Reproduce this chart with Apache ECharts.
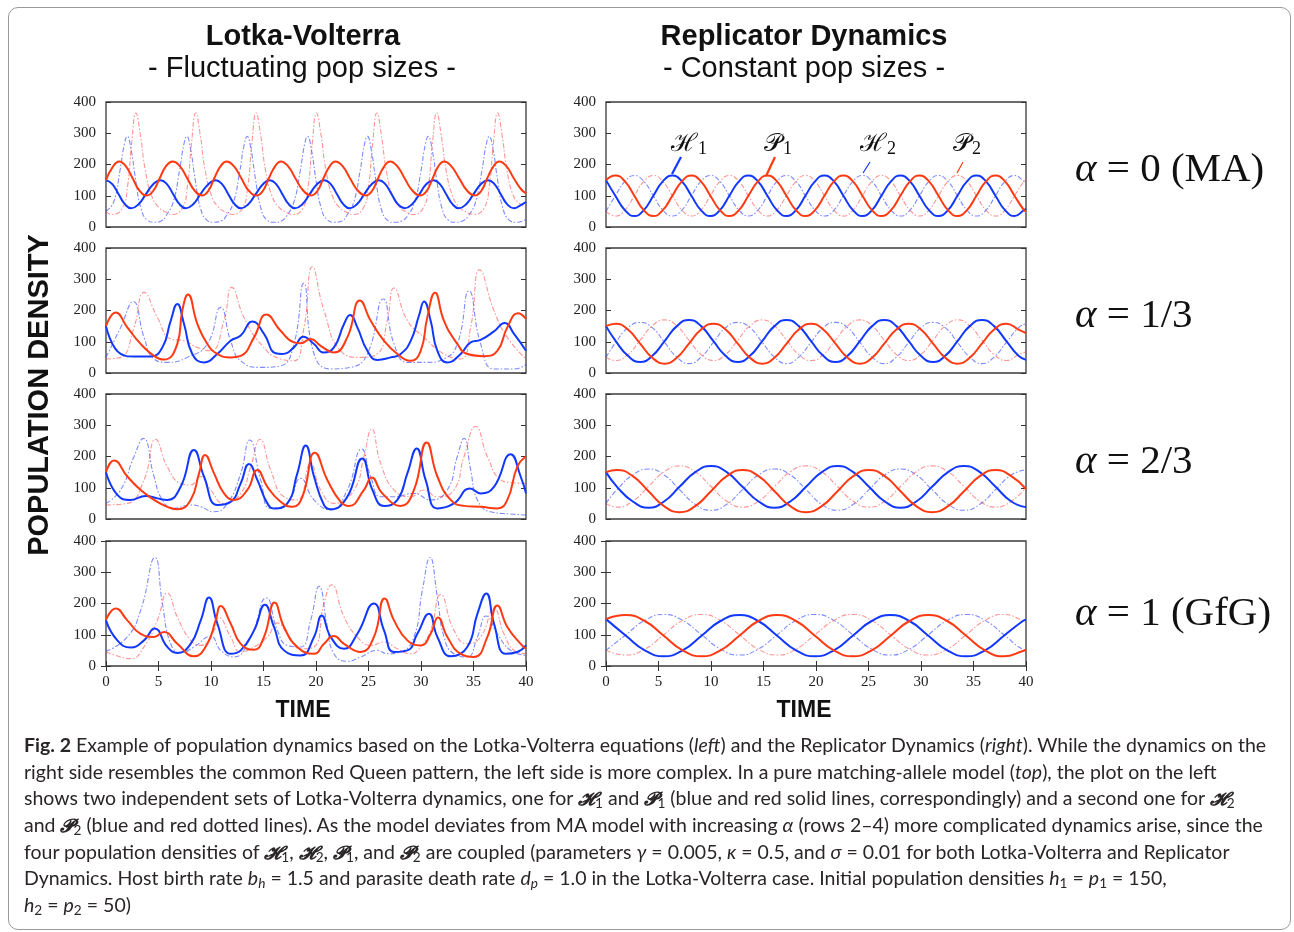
<!DOCTYPE html>
<html><head><meta charset="utf-8">
<script src="https://cdn.jsdelivr.net/npm/echarts@6/dist/echarts.min.js"></script>
<style>
html,body{margin:0;padding:0;background:#fff;}
#wrap{position:relative;width:1294px;height:932px;overflow:hidden;}
#chart{position:absolute;left:0;top:0;width:1294px;height:932px;}
#frame{position:absolute;left:8px;top:7px;width:1283px;height:923px;border:1px solid #9a9a9a;border-radius:10px;box-sizing:border-box;pointer-events:none;}
#caption{position:absolute;left:24px;top:732px;font-family:Lato,"Open Sans",sans-serif;font-size:19.5px;color:#2a2627;white-space:nowrap;}
#caption div{height:26.67px;line-height:26.67px;}
#caption sub{font-size:0.7em;vertical-align:-0.25em;line-height:0;}
#caption .m{font-family:"DejaVu Serif",serif;font-weight:bold;font-style:italic;font-size:0.95em;}
</style></head>
<body><div id="wrap"><div id="chart"></div><div id="frame"></div>
<div id="caption">
<div><b>Fig. 2</b> Example of population dynamics based on the Lotka-Volterra equations (<i>left</i>) and the Replicator Dynamics (<i>right</i>). While the dynamics on the</div>
<div>right side resembles the common Red Queen pattern, the left side is more complex. In a pure matching-allele model (<i>top</i>), the plot on the left</div>
<div>shows two independent sets of Lotka-Volterra dynamics, one for <span class="m">𝓗</span><sub>1</sub> and <span class="m">𝓟</span><sub>1</sub> (blue and red solid lines, correspondingly) and a second one for <span class="m">𝓗</span><sub>2</sub></div>
<div>and <span class="m">𝓟</span><sub>2</sub> (blue and red dotted lines). As the model deviates from MA model with increasing <i>α</i> (rows 2–4) more complicated dynamics arise, since the</div>
<div>four population densities of <span class="m">𝓗</span><sub>1</sub>, <span class="m">𝓗</span><sub>2</sub>, <span class="m">𝓟</span><sub>1</sub>, and <span class="m">𝓟</span><sub>2</sub> are coupled (parameters <i>γ</i> = 0.005, <i>κ</i> = 0.5, and <i>σ</i> = 0.01 for both Lotka-Volterra and Replicator</div>
<div>Dynamics. Host birth rate <i>b<sub>h</sub></i> = 1.5 and parasite death rate <i>d<sub>p</sub></i> = 1.0 in the Lotka-Volterra case. Initial population densities <i>h</i><sub>1</sub> = <i>p</i><sub>1</sub> = 150,</div>
<div><i>h</i><sub>2</sub> = <i>p</i><sub>2</sub> = 50)</div>
</div></div>
<script>
// ---------- tick labels ----------
const xTicks = [0,5,10,15,20,25,30,35,40];
const yTicks = [0,100,200,300,400];
const rowLabels = ['α = 0 (MA)','α = 1/3','α = 2/3','α = 1 (GfG)'];

// ---------- Lotka-Volterra, alpha = 0 ([time, density]) ----------
const lvA0H1 = [[0,150],[0.6,137],[1.2,105],[1.8,73],[2.4,60],[3.1,73],[3.8,105],[4.5,137],[5.2,150],[5.8,137],[6.4,105],[7.0,73],[7.6,60],[8.3,73],[9.0,105],[9.75,137],[10.45,150],[11.05,137],[11.65,105],[12.25,73],[12.85,60],[13.55,73],[14.25,105],[14.95,137],[15.6,150],[16.2,137],[16.8,105],[17.4,73],[18.0,60],[18.7,73],[19.4,105],[20.1,137],[20.8,150],[21.4,137],[22.0,105],[22.6,73],[23.2,60],[23.9,73],[24.6,105],[25.3,137],[26.0,150],[26.6,137],[27.2,105],[27.8,73],[28.45,60],[29.15,73],[29.85,105],[30.5,137],[31.2,150],[31.8,137],[32.4,105],[33.0,73],[33.6,60],[34.3,73],[35.0,105],[35.7,137],[36.4,150],[37.0,137],[37.6,105],[38.2,73],[38.85,60],[39.5,70],[40,80]];
const lvA0P1 = [[0,150],[0.6,190],[1.25,210],[1.9,194],[2.55,155],[3.2,116],[3.9,101],[4.5,116],[5.1,155],[5.7,194],[6.35,210],[7.05,194],[7.75,155],[8.45,116],[9.15,101],[9.75,116],[10.3,155],[10.9,194],[11.5,210],[12.2,194],[12.9,155],[13.6,116],[14.35,101],[14.95,116],[15.5,155],[16.1,194],[16.65,210],[17.35,194],[18.05,155],[18.8,116],[19.55,101],[20.15,116],[20.7,155],[21.3,194],[21.85,210],[22.55,194],[23.25,155],[24.0,116],[24.75,101],[25.35,116],[25.9,155],[26.5,194],[27.05,210],[27.75,194],[28.45,155],[29.2,116],[29.95,101],[30.55,116],[31.1,155],[31.65,194],[32.2,210],[32.9,194],[33.65,155],[34.4,116],[35.15,101],[35.75,116],[36.3,155],[36.9,194],[37.45,210],[38.15,194],[38.85,155],[39.55,120],[40,108]];
const lvA0H2 = [[0,50],[0.73,80],[1.33,180],[1.73,262],[2.03,290],[2.38,250],[2.83,150],[3.33,60],[3.93,22],[4.63,15],[5.3,20],[5.7,35],[6.4,80],[7.0,180],[7.4,262],[7.7,290],[8.05,250],[8.5,150],[9.0,60],[9.6,22],[10.3,15],[11.0,20],[11.45,35],[12.15,80],[12.75,180],[13.15,262],[13.45,290],[13.8,250],[14.25,150],[14.75,60],[15.35,22],[16.05,15],[16.75,20],[17.2,35],[17.9,80],[18.5,180],[18.9,262],[19.2,290],[19.55,250],[20.0,150],[20.5,60],[21.1,22],[21.8,15],[22.5,20],[22.9,35],[23.6,80],[24.2,180],[24.6,262],[24.9,290],[25.25,250],[25.7,150],[26.2,60],[26.8,22],[27.5,15],[28.2,20],[28.7,35],[29.4,80],[30.0,180],[30.4,262],[30.7,290],[31.05,250],[31.5,150],[32.0,60],[32.6,22],[33.3,15],[34.0,20],[34.5,35],[35.2,80],[35.8,180],[36.2,262],[36.5,290],[36.85,250],[37.3,150],[37.8,60],[38.4,22],[39.1,15],[40,24]];
const lvA0P2 = [[0,50],[0.55,40],[1.55,60],[2.05,130],[2.45,270],[2.85,365],[3.25,300],[3.75,180],[4.35,100],[5.05,62],[5.85,45],[6.25,40],[7.25,60],[7.75,130],[8.15,270],[8.55,365],[8.95,300],[9.45,180],[10.05,100],[10.75,62],[11.55,45],[12.0,40],[13.0,60],[13.5,130],[13.9,270],[14.3,365],[14.7,300],[15.2,180],[15.8,100],[16.5,62],[17.3,45],[17.75,40],[18.75,60],[19.25,130],[19.65,270],[20.05,365],[20.45,300],[20.95,180],[21.55,100],[22.25,62],[23.05,45],[23.5,40],[24.5,60],[25.0,130],[25.4,270],[25.8,365],[26.2,300],[26.7,180],[27.3,100],[28.0,62],[28.8,45],[29.2,40],[30.2,60],[30.7,130],[31.1,270],[31.5,365],[31.9,300],[32.4,180],[33.0,100],[33.7,62],[34.5,45],[35.0,40],[36.0,60],[36.5,130],[36.9,270],[37.3,365],[37.7,300],[38.2,180],[38.8,100],[39.5,72],[40,64]];

// ---------- Lotka-Volterra, alpha = 1/3 ----------
const lvA1H1 = [[0,150],[1.4,61],[2.67,53],[4.25,53],[5.37,82],[6.16,167],[6.79,221],[7.43,157],[8.22,61],[9.33,34],[10.6,61],[11.87,103],[12.83,120],[13.94,165],[15.05,125],[16.16,63],[16.79,61],[17.9,82],[18.79,116],[19.81,93],[20.7,66],[21.71,82],[22.67,157],[23.24,186],[23.94,146],[24.89,71],[25.84,42],[27.11,50],[28.06,61],[29.02,103],[29.81,184],[30.29,229],[30.92,167],[31.56,71],[32.51,34],[33.78,61],[34.73,98],[35.68,106],[36.95,133],[37.97,160],[38.86,125],[40,71]];
const lvA1P1 = [[0,150],[0.92,194],[2.03,146],[3.3,93],[4.57,55],[5.52,43],[6.79,93],[7.27,200],[7.81,251],[8.7,157],[9.65,93],[10.6,61],[11.87,50],[12.83,55],[14.1,114],[15.27,187],[16.63,135],[17.9,98],[18.54,95],[19.49,109],[20.44,87],[21.71,66],[22.98,114],[24.19,232],[25.21,167],[26.48,103],[27.75,61],[29.02,39],[29.97,71],[30.6,178],[31.33,257],[32.19,167],[33.46,93],[34.41,61],[36.0,54],[37.27,71],[38.22,146],[39.24,191],[40,173]];
const lvA1H2 = [[0,50],[1.4,146],[2.6,228],[3.62,114],[4.57,45],[5.84,34],[7.75,50],[9.65,93],[10.92,210],[11.87,103],[12.83,39],[14.73,18],[16.63,23],[17.9,93],[18.83,287],[19.81,61],[21.4,13],[23.3,18],[24.89,61],[26.41,237],[27.43,93],[28.7,34],[30.6,34],[32.19,45],[33.46,93],[34.57,263],[35.68,93],[36.95,13],[38.86,13],[40,27]];
const lvA1P2 = [[0,45],[1.4,50],[2.67,146],[3.62,258],[4.89,178],[6.16,109],[7.43,103],[8.7,82],[9.97,71],[11.24,168],[11.97,274],[13.14,178],[14.73,93],[16.63,45],[17.9,39],[18.86,146],[19.65,340],[20.76,200],[22.35,71],[24.25,50],[25.84,61],[26.79,168],[27.43,272],[28.7,168],[30.29,114],[32.19,61],[33.78,45],[34.73,146],[35.59,330],[36.95,200],[38.22,114],[40,45]];

// ---------- Lotka-Volterra, alpha = 2/3 ----------
const lvA2H1 = [[0,150],[1.08,77],[2.35,61],[3.78,74],[4.89,66],[5.84,61],[7.11,103],[8.38,221],[9.33,136],[10.6,45],[11.87,55],[12.83,114],[13.62,176],[14.41,125],[15.37,50],[16.0,34],[17.27,50],[18.22,146],[19.02,235],[19.81,136],[20.76,45],[21.4,31],[22.98,71],[24.41,194],[25.37,93],[26.48,42],[27.75,61],[28.7,146],[29.59,226],[30.44,125],[31.56,34],[33.14,50],[34.67,98],[35.68,82],[36.95,103],[38.54,207],[39.49,136],[40,82]];
const lvA2P1 = [[0,150],[0.76,187],[2.03,136],[3.3,93],[4.57,61],[5.84,39],[6.79,31],[8.06,61],[8.86,146],[9.43,205],[10.29,146],[11.24,82],[12.19,61],[13.46,93],[14.41,157],[15.37,103],[16.63,55],[17.75,39],[18.7,71],[19.9,212],[21.08,125],[22.35,55],[23.14,42],[24.57,93],[25.3,133],[26.32,82],[28.06,42],[29.33,93],[30.54,245],[31.56,136],[32.83,61],[34.1,42],[35.68,39],[37.27,34],[38.22,61],[39.17,167],[40,200]];
const lvA2H2 = [[0,50],[1.4,93],[2.67,200],[3.56,258],[4.57,136],[5.37,61],[6.48,34],[8.06,45],[9.02,39],[10.29,23],[11.56,50],[12.83,146],[13.68,253],[14.73,125],[15.68,34],[17.27,50],[18.54,130],[19.81,61],[21.4,29],[22.98,93],[24.35,224],[25.21,136],[26.16,71],[27.43,71],[29.33,82],[30.92,61],[32.51,93],[33.46,200],[34.1,258],[34.73,157],[35.37,61],[36.63,23],[38.54,16],[40,13]];
const lvA2P2 = [[0,45],[2.03,50],[3.62,125],[4.73,255],[5.84,167],[7.11,114],[8.06,109],[9.02,136],[9.97,93],[11.24,50],[12.83,82],[13.78,167],[14.67,255],[15.68,157],[16.95,71],[18.22,61],[19.49,178],[20.44,93],[21.71,50],[23.62,93],[24.57,200],[25.3,288],[26.16,178],[27.43,93],[29.02,71],[30.29,93],[31.56,71],[33.14,93],[34.1,200],[35.21,296],[36.32,200],[37.59,125],[38.54,117],[40,114]];

// ---------- Lotka-Volterra, alpha = 1 ----------
const lvA3H1 = [[0,146],[1.08,82],[2.35,59],[3.62,82],[4.63,120],[5.84,61],[6.79,42],[8.06,71],[9.02,146],[9.81,219],[10.6,136],[11.87,39],[12.83,50],[14.1,114],[15.14,196],[16.0,125],[16.95,50],[18.54,34],[19.81,93],[20.54,162],[21.4,93],[22.67,55],[23.94,103],[25.52,200],[26.48,114],[27.43,45],[28.7,50],[29.65,103],[30.76,167],[31.56,93],[32.83,31],[34.41,61],[35.37,167],[36.22,232],[36.95,136],[38.06,39],[39.17,45],[40,66]];
const lvA3P1 = [[0,148],[0.92,184],[2.03,146],[3.3,103],[4.57,93],[5.52,109],[6.79,71],[8.38,31],[9.65,71],[10.44,146],[10.92,192],[11.87,136],[12.83,71],[14.1,52],[15.05,93],[16.06,203],[16.95,125],[18.22,61],[19.81,39],[20.76,71],[21.71,96],[22.67,71],[24.25,45],[25.52,93],[26.54,216],[27.43,146],[28.7,82],[29.97,66],[30.92,103],[31.62,155],[32.51,93],[33.78,39],[35.05,29],[36.32,93],[37.27,194],[38.22,125],[39.49,71],[40,55]];
const lvA3H2 = [[0,47],[2.03,93],[3.3,178],[4.67,347],[5.37,200],[6.16,71],[7.11,42],[8.38,61],[9.97,95],[10.92,50],[12.19,29],[13.78,93],[15.27,218],[16.32,114],[17.27,66],[18.54,61],[19.49,146],[20.29,255],[21.08,125],[21.71,39],[22.98,15],[24.25,29],[25.84,50],[26.79,39],[28.06,45],[29.33,93],[30.13,242],[30.86,347],[31.56,221],[32.19,93],[33.14,39],[34.41,29],[35.37,93],[36.22,160],[37.27,103],[38.54,50],[40,34]];
const lvA3P2 = [[0,45],[1.4,29],[2.35,23],[3.62,61],[4.89,146],[5.84,234],[6.79,157],[8.06,82],[9.02,66],[10.29,114],[10.76,155],[11.87,93],[12.83,45],[14.1,61],[15.37,93],[16.32,138],[17.27,103],[18.54,55],[19.81,61],[20.76,200],[21.49,260],[22.67,157],[23.94,93],[25.21,66],[26.48,77],[27.75,55],[29.02,39],[29.97,61],[30.92,114],[31.87,229],[33.14,114],[34.41,71],[35.68,93],[36.95,184],[37.9,103],[38.86,50],[40,39]];

// ---------- Replicator Dynamics (shared time samples per row) ----------
const rdA0T  = [0,0.89,1.8,2.7,3.6,4.51,5.41,6.32,7.23,8.13,9.04,9.94,10.85,11.75,12.66,13.56,14.47,15.37,16.28,17.18,18.09,18.99,19.9,20.8,21.71,22.61,23.52,24.42,25.33,26.23,27.14,28.04,28.95,29.85,30.76,31.66,32.57,33.47,34.38,35.28,36.19,37.09,38.0,38.9,39.81,40];
const rdA0H1 = [150,100,54,35,54,100,146,165,146,100,54,35,54,100,146,165,146,100,54,35,54,100,146,165,146,100,54,35,54,100,146,165,146,100,54,35,54,100,146,165,146,100,54,35,54,58];
const rdA0P1 = [150,165,146,100,54,35,54,100,146,165,146,100,54,35,54,100,146,165,146,100,54,35,54,100,146,165,146,100,54,35,54,100,146,165,146,100,54,35,54,100,146,165,146,100,54,50];
const rdA0H2 = [50,100,146,165,146,100,54,35,54,100,146,165,146,100,54,35,54,100,146,165,146,100,54,35,54,100,146,165,146,100,54,35,54,100,146,165,146,100,54,35,54,100,146,165,146,142];
const rdA0P2 = [50,35,54,100,146,165,146,100,54,35,54,100,146,165,146,100,54,35,54,100,146,165,146,100,54,35,54,100,146,165,146,100,54,35,54,100,146,165,146,100,54,35,54,100,146,150];

const rdA1T  = [0,0.93,2.09,3.25,4.41,5.58,6.74,7.9,9.06,10.23,11.39,12.55,13.71,14.88,16.04,17.2,18.36,19.53,20.69,21.85,23.01,24.18,25.34,26.5,27.66,28.83,29.99,31.15,32.31,33.48,34.64,35.8,36.96,38.13,39.29,40];
const rdA1H1 = [150,102,55,35,55,102,150,170,150,102,55,35,55,102,150,170,150,102,55,35,55,102,150,170,150,102,55,35,55,102,150,170,150,102,55,42];
const rdA1P1 = [150,158,139,94,49,30,49,94,139,158,139,94,49,30,49,94,139,158,139,94,49,30,49,94,139,158,139,94,49,30,49,94,139,158,139,128];
const rdA1H2 = [50,98,145,162,145,98,51,30,51,98,145,162,145,98,51,30,51,98,145,162,145,98,51,30,51,98,145,162,145,98,51,30,51,98,145,158];
const rdA1P2 = [50,40,59,105,151,170,151,105,59,40,59,105,151,170,151,105,59,40,59,105,151,170,151,105,59,40,59,105,151,170,151,105,59,40,59,68];

const rdA2T  = [0,1.05,2.55,4.05,5.53,7.0,8.5,10.0,11.5,13.0,14.53,16.05,17.55,19.05,20.55,22.05,23.55,25.05,26.55,28.05,29.55,31.05,32.58,34.1,35.6,37.1,38.6,40];
const rdA2H1 = [150,103,56,36,56,103,150,170,150,103,56,36,56,103,150,170,150,103,56,36,56,103,150,170,150,103,56,38];
const rdA2P1 = [150,157,137,89,41,22,41,89,137,157,137,89,41,22,41,89,137,157,137,89,41,22,41,89,137,157,137,96];
const rdA2H2 = [50,94,141,160,141,94,47,28,47,94,141,160,141,94,47,28,47,94,141,160,141,94,47,28,47,94,141,158];
const rdA2P2 = [50,38,57,104,151,170,151,104,57,38,57,104,151,170,151,104,57,38,57,104,151,170,151,104,57,38,57,100];

const rdA3T  = [0,1.9,3.7,5.5,7.3,9.1,10.9,12.7,14.5,16.3,18.1,19.9,21.7,23.5,25.3,27.1,28.9,30.7,32.5,34.3,36.1,37.9,39.7,40];
const rdA3H1 = [150,97,50,31,50,97,144,163,144,97,50,31,50,97,144,163,144,97,50,31,50,97,144,148];
const rdA3P1 = [150,163,144,97,50,31,50,97,144,163,144,97,50,31,50,97,144,163,144,97,50,31,48,52];
const rdA3H2 = [50,100,146,165,146,100,54,35,54,100,146,165,146,100,54,35,54,100,146,165,146,100,54,52];
const rdA3P2 = [50,35,54,100,146,165,146,100,54,35,54,100,146,165,146,100,54,35,54,100,146,165,146,143];

const pair = (t, v) => t.map((x, i) => [x, v[i]]);

// ---------- layout ----------
const rowTops = [102, 248, 394, 541];
const colLefts = [106, 606];
const gridW = 420, gridH = 125;
const panels = [
  [lvA0H1, lvA0P1, lvA0H2, lvA0P2], [pair(rdA0T, rdA0H1), pair(rdA0T, rdA0P1), pair(rdA0T, rdA0H2), pair(rdA0T, rdA0P2)],
  [lvA1H1, lvA1P1, lvA1H2, lvA1P2], [pair(rdA1T, rdA1H1), pair(rdA1T, rdA1P1), pair(rdA1T, rdA1H2), pair(rdA1T, rdA1P2)],
  [lvA2H1, lvA2P1, lvA2H2, lvA2P2], [pair(rdA2T, rdA2H1), pair(rdA2T, rdA2P1), pair(rdA2T, rdA2H2), pair(rdA2T, rdA2P2)],
  [lvA3H1, lvA3P1, lvA3H2, lvA3P2], [pair(rdA3T, rdA3H1), pair(rdA3T, rdA3P1), pair(rdA3T, rdA3H2), pair(rdA3T, rdA3P2)]
];
const BLUE = '#1238ff', RED = '#ff3a12';
const BLUE_D = 'rgba(40,60,255,0.6)', RED_D = 'rgba(255,60,60,0.55)';
const tickFont = {fontFamily:'"Liberation Serif", serif', fontSize:15, color:'#222'};

const grid = [], xAxis = [], yAxis = [], series = [];
panels.forEach((p, g) => {
  const row = Math.floor(g / 2), col = g % 2;
  grid.push({left: colLefts[col], top: rowTops[row], width: gridW, height: gridH,
    show: true, borderColor: '#3a3a3a', borderWidth: 1.3, backgroundColor: 'transparent'});
  const last = row === 3;
  xAxis.push({gridIndex: g, type: 'value', min: xTicks[0], max: xTicks[xTicks.length-1], interval: 5, position: 'bottom',
    axisLine: {show: false}, splitLine: {show: false},
    axisTick: {show: last, inside: true, length: 5, lineStyle: {color: '#333'}},
    axisLabel: Object.assign({show: last, margin: 9}, tickFont)});
  yAxis.push({gridIndex: g, type: 'value', min: yTicks[0], max: yTicks[yTicks.length-1], interval: 100, position: 'left',
    axisLine: {show: false}, splitLine: {show: false},
    axisTick: {show: true, inside: true, length: 5, lineStyle: {color: '#333'}},
    axisLabel: Object.assign({show: true, margin: 10}, tickFont)});
  yAxis.push({gridIndex: g, type: 'value', min: 0, max: 400, interval: 100, position: 'right',
    axisLine: {show: false}, splitLine: {show: false},
    axisTick: {show: true, inside: true, length: 5, lineStyle: {color: '#333'}},
    axisLabel: {show: false}});
  const styles = [
    {c: BLUE, w: 2, t: 'solid'}, {c: RED, w: 2, t: 'solid'},
    {c: BLUE_D, w: 1.1, t: [5, 2, 1.5, 2]}, {c: RED_D, w: 1.1, t: [5, 2, 1.5, 2]}
  ];
  [2, 3, 0, 1].forEach(k => {
    series.push({type: 'line', xAxisIndex: g, yAxisIndex: 2 * g, data: p[k], smooth: 0.5,
      showSymbol: false, symbol: 'none', silent: true, clip: true,
      lineStyle: {color: styles[k].c, width: styles[k].w, type: styles[k].t}, z: k < 2 ? 3 : 2});
  });
});
[6, 7].forEach(g => {
  xAxis.push({gridIndex: g, type: 'value', min: 0, max: 40, interval: 5, position: 'top',
    axisLine: {show: false}, splitLine: {show: false},
    axisTick: {show: true, inside: true, length: 5, lineStyle: {color: '#333'}}, axisLabel: {show: false}});
});

const txt = (x, y, text, font, align, extra) => Object.assign({type: 'text', x: x, y: y, silent: true,
  style: {text: text, font: font, fill: '#111', align: align || 'center', verticalAlign: 'middle'}}, extra || {});
const sansB = 'bold 29px "Liberation Sans", Arial, sans-serif';
const sans = '29px "Liberation Sans", Arial, sans-serif';
const graphic = [
  txt(303, 37, 'Lotka-Volterra', sansB), txt(302, 69, '- Fluctuating pop sizes -', sans),
  txt(804, 37, 'Replicator Dynamics', sansB), txt(804, 69, '- Constant pop sizes -', sans),
  txt(40, 395, 'POPULATION DENSITY', 'bold 29px "Liberation Sans", Arial, sans-serif', 'center', {rotation: Math.PI / 2}),
  txt(303, 711, 'TIME', 'bold 23px "Liberation Sans", Arial, sans-serif'),
  txt(804, 711, 'TIME', 'bold 23px "Liberation Sans", Arial, sans-serif')
];
const alphaY = [170, 316, 462, 614];
rowLabels.forEach((s, i) => {
  graphic.push({type: 'text', x: 1075, y: alphaY[i], silent: true,
    style: {text: '{a|α}' + s.slice(1), font: '41px "Liberation Serif", serif', fill: '#111', align: 'left', verticalAlign: 'middle',
      rich: {a: {font: 'italic 41px "Liberation Serif", serif', fill: '#111'}}}});
});
const legendLbl = [['ℋ', '1', 671], ['𝒫', '1', 764], ['ℋ', '2', 860], ['𝒫', '2', 953]];
legendLbl.forEach(l => {
  graphic.push({type: 'text', x: l[2], y: 144, silent: true,
    style: {text: '{a|' + l[0] + '}{b|' + l[1] + '}', fill: '#111', align: 'left', verticalAlign: 'middle',
      rich: {a: {font: '25px "DejaVu Serif", serif', fill: '#111', height: 30, verticalAlign: 'middle'},
             b: {font: '18px "Liberation Serif", serif', fill: '#111', padding: [10, 0, 0, 1]}}}});
});
const ptr = [[681, 157, 672, 174, BLUE, 2.2], [775, 157, 766, 176, RED, 2.2], [870, 162, 863, 173, BLUE, 1.2], [963, 162, 957, 173, RED, 1.2]];
ptr.forEach(p => graphic.push({type: 'line', silent: true, shape: {x1: p[0], y1: p[1], x2: p[2], y2: p[3]}, style: {stroke: p[4], lineWidth: p[5]}}));

const chart = echarts.init(document.getElementById('chart'), null, {renderer: 'canvas'});
chart.setOption({animation: false, backgroundColor: '#fff', grid, xAxis, yAxis, series, graphic});
</script>
</body></html>
